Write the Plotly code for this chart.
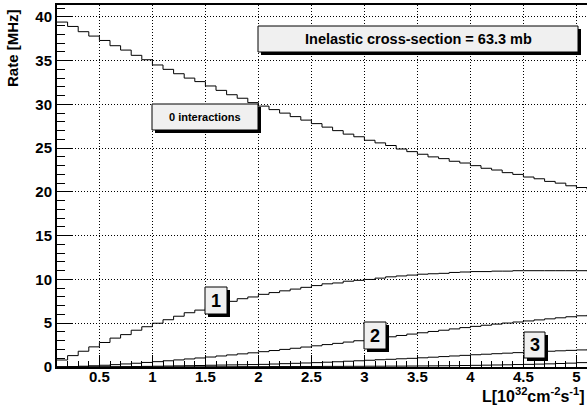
import plotly.graph_objects as go

# Luminosity bin edges [10^32 cm^-2 s^-1]
lumi = [0.1, 0.2, 0.3, 0.4, 0.5, 0.6, 0.7, 0.8, 0.9, 1.0,
        1.1, 1.2, 1.3, 1.4, 1.5, 1.6, 1.7, 1.8, 1.9, 2.0,
        2.1, 2.2, 2.3, 2.4, 2.5, 2.6, 2.7, 2.8, 2.9, 3.0,
        3.1, 3.2, 3.3, 3.4, 3.5, 3.6, 3.7, 3.8, 3.9, 4.0,
        4.1, 4.2, 4.3, 4.4, 4.5, 4.6, 4.7, 4.8, 4.9, 5.0, 5.1]

rate_0 = [39.4, 38.9, 38.3, 37.8, 37.3, 36.7, 36.2, 35.6, 35.1, 34.5,
          34.0, 33.5, 33.0, 32.6, 32.1, 31.6, 31.1, 30.7, 30.2, 29.8,
          29.4, 29.0, 28.6, 28.2, 27.8, 27.4, 27.0, 26.6, 26.3, 25.9,
          25.6, 25.3, 24.9, 24.6, 24.3, 24.0, 23.8, 23.5, 23.3, 23.0,
          22.7, 22.5, 22.2, 22.0, 21.7, 21.5, 21.2, 21.0, 20.7, 20.5, 20.3]

rate_1 = [0.8, 1.3, 1.8, 2.3, 2.8, 3.3, 3.7, 4.2, 4.6, 5.0,
          5.4, 5.8, 6.2, 6.5, 6.8, 7.2, 7.5, 7.8, 8.0, 8.3,
          8.5, 8.7, 8.9, 9.1, 9.3, 9.5, 9.6, 9.8, 9.9, 10.0,
          10.15, 10.3, 10.4, 10.5, 10.6, 10.65, 10.7, 10.8, 10.85, 10.9,
          10.9, 10.95, 10.95, 11.0, 11.0, 11.0, 11.0, 11.0, 11.0, 11.0, 10.95]

rate_2 = [0.02, 0.05, 0.09, 0.14, 0.2, 0.27, 0.35, 0.43, 0.52, 0.61,
          0.71, 0.81, 0.92, 1.03, 1.14, 1.26, 1.38, 1.5, 1.62, 1.75,
          1.88, 2.01, 2.14, 2.28, 2.42, 2.56, 2.7, 2.85, 3.0, 3.14,
          3.3, 3.45, 3.6, 3.76, 3.91, 4.06, 4.2, 4.35, 4.5, 4.64,
          4.77, 4.9, 5.02, 5.14, 5.26, 5.38, 5.5, 5.62, 5.74, 5.85, 5.95]

rate_3 = [0.0, 0.0, 0.01, 0.01, 0.02, 0.03, 0.04, 0.05, 0.07, 0.09,
          0.11, 0.13, 0.15, 0.17, 0.2, 0.22, 0.24, 0.26, 0.28, 0.3,
          0.34, 0.38, 0.42, 0.46, 0.5, 0.55, 0.6, 0.66, 0.71, 0.77,
          0.83, 0.88, 0.94, 0.99, 1.05, 1.12, 1.19, 1.26, 1.33, 1.4,
          1.46, 1.52, 1.58, 1.64, 1.7, 1.75, 1.8, 1.85, 1.9, 1.95, 2.0]

rate_4 = [0.0, 0.0, 0.0, 0.0, 0.0, 0.0, 0.0, 0.01, 0.01, 0.01,
          0.01, 0.02, 0.02, 0.02, 0.03, 0.03, 0.03, 0.04, 0.04, 0.04,
          0.05, 0.05, 0.05, 0.06, 0.06, 0.07, 0.07, 0.08, 0.08, 0.09,
          0.09, 0.1, 0.1, 0.11, 0.12, 0.13, 0.14, 0.15, 0.17, 0.19,
          0.21, 0.23, 0.25, 0.28, 0.3, 0.33, 0.36, 0.4, 0.44, 0.5, 0.55]

series = [rate_0, rate_1, rate_2, rate_3, rate_4]

FONT = "Liberation Sans, Arial, Helvetica, sans-serif"
W, H = 587, 407
PL, PR, PT, PB = 57, 587, 5, 367  # plot area in pixels


def px(x):
    return (x - PL) / (PR - PL)


def py(y):
    return (PB - y) / (PB - PT)


fig = go.Figure()
for s in series:
    fig.add_trace(go.Scatter(x=lumi, y=s, mode="lines", line_shape="hv",
                             line=dict(color="black", width=1),
                             showlegend=False, hoverinfo="skip"))

shapes = []
annotations = []


def label_box(x0, y0, x1, y1, text, size):
    shapes.append(dict(type="rect", xref="paper", yref="paper",
                       x0=px(x0 + 3), x1=px(x1 + 3), y0=py(y1 + 3), y1=py(y0 + 3),
                       fillcolor="black", line=dict(width=0), layer="above"))
    shapes.append(dict(type="rect", xref="paper", yref="paper",
                       x0=px(x0), x1=px(x1), y0=py(y1), y1=py(y0),
                       fillcolor="#f0f0f0", line=dict(color="black", width=1),
                       layer="above"))
    annotations.append(dict(xref="paper", yref="paper",
                            x=px((x0 + x1) / 2), y=py((y0 + y1) / 2),
                            xanchor="center", yanchor="middle", showarrow=False,
                            text=text,
                            font=dict(family=FONT, size=size, color="black",
                                      weight="bold")))


label_box(258, 26, 578, 52, "Inelastic cross-section = 63.3 mb", 14.5)
label_box(152, 104, 258, 130, "0 interactions", 11)
label_box(205, 287, 227, 314, "1", 18)
label_box(364, 322, 386, 349, "2", 18)
label_box(524, 332, 545, 358, "3", 18)

annotations.append(dict(xref="paper", yref="paper", x=px(13), y=py(48),
                        xanchor="center", yanchor="middle", showarrow=False,
                        textangle=-90, text="Rate [MHz]",
                        font=dict(family=FONT, size=15, color="black",
                                  weight="bold")))
annotations.append(dict(xref="paper", yref="paper", x=px(587), y=py(407),
                        xanchor="right", yanchor="bottom", showarrow=False,
                        text="L[10<sup>32</sup>cm<sup>-2</sup>s<sup>-1</sup>]",
                        font=dict(family=FONT, size=16, color="black",
                                  weight="bold")))

axis_common = dict(showline=True, linecolor="black", linewidth=2, mirror=True,
                   ticks="inside", tickcolor="black", tickwidth=1,
                   showgrid=True, gridcolor="black", gridwidth=1,
                   griddash="1px,2px", zeroline=False,
                   tickfont=dict(family=FONT, size=15, color="black",
                                 weight="bold"))

fig.update_xaxes(range=[0.1, 5.1], tick0=0, dtick=0.5, ticklen=12,
                 ticklabelstandoff=-5,
                 minor=dict(tick0=0, dtick=0.1, ticks="inside", ticklen=6,
                            tickcolor="black", showgrid=False),
                 **axis_common)
fig.update_yaxes(range=[0, 41.35], tick0=0, dtick=5, ticklen=15,
                 minor=dict(tick0=0, dtick=1, ticks="inside", ticklen=8,
                            tickcolor="black", showgrid=False),
                 **axis_common)

fig.update_layout(width=W, height=H,
                  margin=dict(l=PL, r=W - PR, t=PT, b=H - PB, autoexpand=False),
                  paper_bgcolor="white", plot_bgcolor="white",
                  shapes=shapes, annotations=annotations,
                  font=dict(family=FONT, color="black"))

fig.write_html("out.html", config={"displayModeBar": False},
               post_script="document.body.style.margin='0';"
                           "document.body.style.overflow='hidden';")
